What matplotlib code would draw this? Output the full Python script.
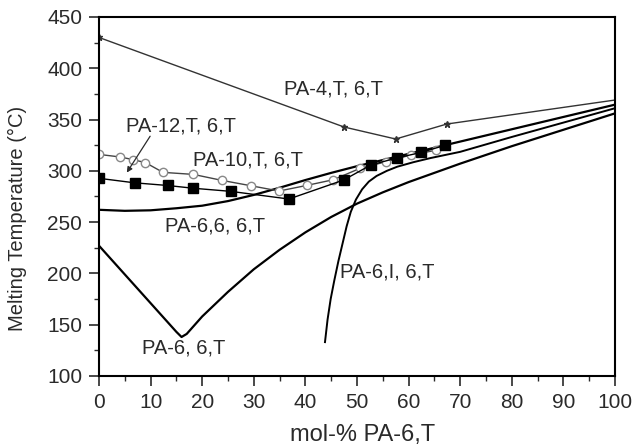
import numpy as np
import matplotlib
matplotlib.use("Agg")
import matplotlib.pyplot as plt
from matplotlib.ticker import MultipleLocator

plt.rcParams['font.family'] = ['Liberation Sans', 'DejaVu Sans']

# PA-4,T / 6,T (stars)
pa4_x = [0, 47.5, 57.5, 67.4, 100]
pa4_y = [430, 342.7, 331, 345.6, 369]

# PA-12,T / 6,T (filled squares)
pa12_x = [0, 6.9, 13.3, 18.3, 25.5, 36.8, 47.4, 52.7, 57.7, 62.5, 67]
pa12_y = [292.7, 288.3, 285.7, 283, 280, 272.5, 291, 305.7, 312.5, 318, 324.8]

# PA-10,T / 6,T (open circles)
pa10_x = [0, 4.1, 6.5, 9, 12.4, 18.3, 23.9, 29.5, 34.9, 40.3, 45.4, 50.6, 55.6, 60.4, 65.3]
pa10_y = [316, 313.5, 311, 308, 298.5, 296.5, 290.6, 285.4, 280.3, 285.8, 291.3, 302.4, 308.8, 315.4, 320]

# PA-6,6 / 6,T
pa66_x = [0, 5, 10, 15, 20, 25, 30, 35, 40, 45, 50, 60, 70, 80, 90, 100]
pa66_y = [262, 261, 261.5, 263.5, 266, 270.5, 276.5, 283.5, 291, 298, 304.5, 316.5, 328.5, 340.5, 352.5, 364.5]

# PA-6 / 6,T
pa6_x = [0, 15, 16, 17, 20, 25, 30, 35, 40, 45, 50, 55, 60, 70, 80, 90, 100]
pa6_y = [227, 143, 138, 141, 158, 182, 204, 223, 240, 255, 268, 279, 289, 307, 324, 340, 356]

# PA-6,I / 6,T
pa6i_x = [43.8, 44.3, 44.9, 45.6, 46.4, 47.2, 48, 48.8, 49.8, 51, 52.3, 53.8, 55.8, 57.8,
          61, 64.3, 70, 80, 90, 100]
pa6i_y = [133, 155, 175, 193, 212, 229, 246, 260, 272, 282, 289.5, 295, 300, 304,
          308.5, 312.5, 318.5, 333, 347, 361]

fig = plt.figure(figsize=(6.37, 4.46), dpi=100)
ax = fig.add_axes([0.1554, 0.157, 0.810, 0.805])

ax.plot(pa66_x, pa66_y, color='black', lw=1.6)
ax.plot(pa6_x, pa6_y, color='black', lw=1.6)
ax.plot(pa6i_x, pa6i_y, color='black', lw=1.4)
ax.plot(pa4_x, pa4_y, color='#333333', lw=1.0, marker='*', markersize=5,
        markevery=[0, 1, 2, 3])
ax.plot(pa10_x, pa10_y, color='#444444', lw=1.0, marker='o', markersize=6,
        mfc='white', mec='#888888', mew=1.0)
ax.plot(pa12_x, pa12_y, color='black', lw=1.0, marker='s', markersize=6.5,
        mfc='black', mec='black')

fs = 14.5
tc = '#2a2a2a'
ax.text(45.5, 380, 'PA-4,T, 6,T', fontsize=fs, ha='center', va='center', color=tc)
ax.text(15.8, 344, 'PA-12,T, 6,T', fontsize=fs, ha='center', va='center', color=tc)
ax.text(28.8, 310.5, 'PA-10,T, 6,T', fontsize=fs, ha='center', va='center', color=tc)
ax.text(22.4, 246, 'PA-6,6, 6,T', fontsize=fs, ha='center', va='center', color=tc)
ax.text(16.4, 127, 'PA-6, 6,T', fontsize=fs, ha='center', va='center', color=tc)
ax.text(55.8, 201, 'PA-6,I, 6,T', fontsize=fs, ha='center', va='center', color=tc)
ax.annotate('', xy=(5.1, 296), xytext=(10.2, 336),
            arrowprops=dict(arrowstyle='-|>', color=tc, lw=0.9,
                            mutation_scale=8))

ax.set_xlim(0, 100)
ax.set_ylim(100, 450)
ax.xaxis.set_major_locator(MultipleLocator(10))
ax.xaxis.set_minor_locator(MultipleLocator(5))
ax.yaxis.set_major_locator(MultipleLocator(50))
ax.yaxis.set_minor_locator(MultipleLocator(25))
ax.tick_params(which='major', direction='out', length=7, width=1.2, labelsize=15,
               colors=tc, pad=5)
ax.tick_params(which='minor', direction='out', length=3.5, width=1.0, colors=tc)
for s in ax.spines.values():
    s.set_linewidth(1.5)

ax.set_xlabel('mol-% PA-6,T', fontsize=17, color=tc)
ax.set_ylabel('Melting Temperature (°C)', fontsize=14.5, color=tc)
ax.xaxis.set_label_coords(0.51, -0.135)
ax.yaxis.set_label_coords(-0.14, 0.44)

fig.savefig('out.png', dpi=100)
